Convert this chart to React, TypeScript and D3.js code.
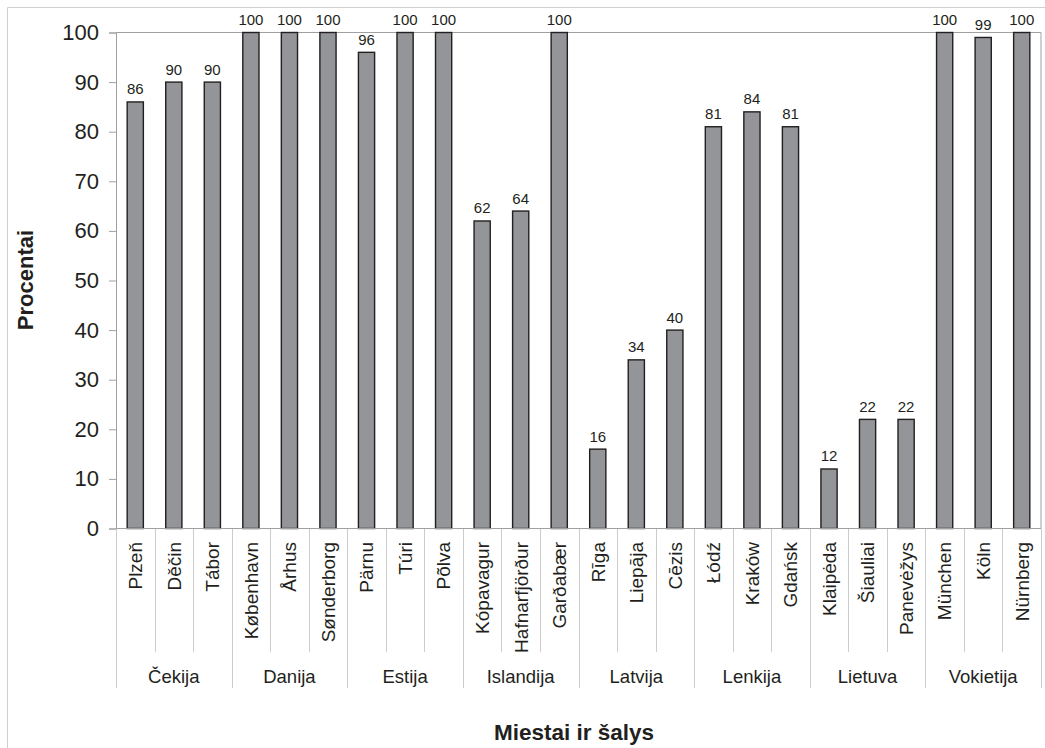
import { useEffect, useRef } from 'react';
import * as d3 from 'd3';

const countries = ['Čekija', 'Danija', 'Estija', 'Islandija', 'Latvija', 'Lenkija', 'Lietuva', 'Vokietija'];
const cities = [
  'Plzeň', 'Děčin', 'Tábor',
  'København', 'Århus', 'Sønderborg',
  'Pärnu', 'Túri', 'Põlva',
  'Kópavagur', 'Hafnarfjörður', 'Garðabær',
  'Rīga', 'Liepāja', 'Cēzis',
  'Łódź', 'Kraków', 'Gdańsk',
  'Klaipėda', 'Šiauliai', 'Panevėžys',
  'München', 'Köln', 'Nürnberg',
];
const values = [86, 90, 90, 100, 100, 100, 96, 100, 100, 62, 64, 100, 16, 34, 40, 81, 84, 81, 12, 22, 22, 100, 99, 100];
const yTicks = [0, 10, 20, 30, 40, 50, 60, 70, 80, 90, 100];

const FONT = '"Liberation Sans", Arial, sans-serif';
const INK = '#231f20';

export default function App() {
  const svgRef = useRef<SVGSVGElement>(null);

  useEffect(() => {
    if (!svgRef.current) return;
    const svg = d3.select(svgRef.current);
    svg.selectAll('*').remove();

    const left = 116;
    const right = 1041;
    const top = 32.5;
    const bottom = 528.5;

    const x = d3.scaleBand<string>().domain(cities).range([left, right]).paddingInner(0.58).paddingOuter(0.29);
    const y = d3.scaleLinear().domain([0, 100]).range([bottom, top]);
    const step = x.step();

    // outer frame
    svg.append('path').attr('d', 'M7.5,760V7.5H1060').attr('fill', 'none').attr('stroke', '#cfcfcf');

    // plot frame
    svg.append('path')
      .attr('d', `M${left},${top}H${right}V${bottom}`)
      .attr('fill', 'none')
      .attr('stroke', '#a0a0a0');

    // separators under the x axis
    d3.range(cities.length + 1).forEach((i) => {
      const xx = Math.round(left + i * step) + 0.5;
      svg.append('line')
        .attr('x1', xx).attr('x2', xx)
        .attr('y1', bottom).attr('y2', i % 3 === 0 ? 688 : 652)
        .attr('stroke', '#cccccc');
    });

    // bars
    svg.append('g')
      .selectAll('rect')
      .data(values)
      .join('rect')
      .attr('x', (_, i) => x(cities[i])!)
      .attr('y', (d) => y(d))
      .attr('width', x.bandwidth())
      .attr('height', (d) => bottom - y(d))
      .attr('fill', '#939598')
      .attr('stroke', INK)
      .attr('stroke-width', 1.4);

    // value labels
    svg.append('g')
      .selectAll('text')
      .data(values)
      .join('text')
      .attr('x', (_, i) => x(cities[i])! + x.bandwidth() / 2)
      .attr('y', (d) => y(d) - 7.5)
      .attr('text-anchor', 'middle')
      .attr('font-family', FONT)
      .attr('font-size', 15)
      .attr('fill', INK)
      .text((d) => d);

    // y axis
    const ya = svg.append('g')
      .attr('transform', `translate(${left},0)`)
      .call(d3.axisLeft(y).tickValues(yTicks).tickSize(7).tickPadding(10));
    ya.selectAll('line, path').attr('stroke', '#a0a0a0');
    ya.selectAll('text').attr('fill', INK).attr('font-family', FONT).attr('font-size', 22);

    // x axis line
    svg.append('line')
      .attr('x1', left).attr('x2', right)
      .attr('y1', bottom).attr('y2', bottom)
      .attr('stroke', '#a0a0a0');

    // city labels
    svg.append('g')
      .selectAll('text')
      .data(cities)
      .join('text')
      .attr('transform', (d) => `translate(${x(d)! + x.bandwidth() / 2},542) rotate(-90)`)
      .attr('dy', '0.36em')
      .attr('text-anchor', 'end')
      .attr('font-family', FONT)
      .attr('font-size', 19)
      .attr('fill', INK)
      .text((d) => d);

    // country labels
    svg.append('g')
      .selectAll('text')
      .data(countries)
      .join('text')
      .attr('x', (_, i) => left + (i * 3 + 1.5) * step)
      .attr('y', 683)
      .attr('text-anchor', 'middle')
      .attr('font-family', FONT)
      .attr('font-size', 18.5)
      .attr('fill', INK)
      .text((d) => d);

    // axis titles
    svg.append('text')
      .attr('x', 574).attr('y', 740)
      .attr('text-anchor', 'middle')
      .attr('font-family', FONT)
      .attr('font-weight', 'bold')
      .attr('font-size', 22.5)
      .attr('fill', INK)
      .text('Miestai ir šalys');

    svg.append('text')
      .attr('transform', 'translate(33,280) rotate(-90)')
      .attr('text-anchor', 'middle')
      .attr('font-family', FONT)
      .attr('font-weight', 'bold')
      .attr('font-size', 22)
      .attr('fill', INK)
      .text('Procentai');
  }, []);

  return (
    <svg
      ref={svgRef}
      width={1045}
      height={748}
      style={{ position: 'absolute', left: 0, top: 0, background: '#fff' }}
    />
  );
}
